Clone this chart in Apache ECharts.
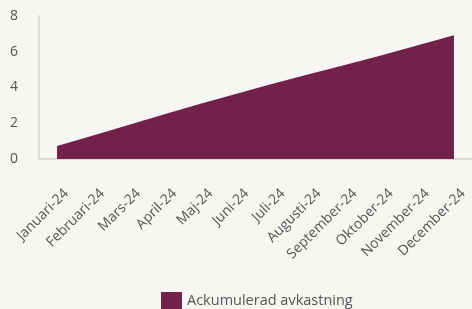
<!DOCTYPE html>
<html><head><meta charset="utf-8">
<script src="https://cdn.jsdelivr.net/npm/echarts@6/dist/echarts.min.js"></script>
<style>html,body{margin:0;padding:0;background:#f7f6f3;}#c{width:472px;height:309px;}</style>
</head><body><div id="c"></div>
<script>
const categories = ["Januari-24","Februari-24","Mars-24","April-24","Maj-24","Juni-24","Juli-24","Augusti-24","September-24","Oktober-24","November-24","December-24"];
const values = [0.73,1.32,1.92,2.52,3.1,3.67,4.22,4.75,5.27,5.8,6.36,6.93];
const seriesName = "Ackumulerad avkastning";
const yTicks = [0,2,4,6,8];
const chart = echarts.init(document.getElementById('c'));
const font = "Open Sans";
chart.setOption({
  backgroundColor: '#f7f6f3',
  animation: false,
  textStyle: {fontFamily: font},
  grid: {left: 39, right: -4, top: 16, bottom: 150},
  legend: {
    top: 292, left: 161, icon: 'rect', itemWidth: 21, itemHeight: 18, padding: 0, itemGap: 0,
    textStyle: {fontFamily: font, fontSize: 14.5, color: '#555'},
    data: [seriesName]
  },
  xAxis: {
    type: 'category', data: categories, boundaryGap: true,
    axisLine: {lineStyle: {color: '#dcdbd8', width: 2}},
    axisTick: {show: false},
    axisLabel: {rotate: 45, interval: 0, color: '#555', fontSize: 14, fontFamily: font, margin: 23,
      verticalAlign: 'top', padding: [6,0,0,0]}
  },
  yAxis: {
    type: 'value', min: yTicks[0], max: yTicks[yTicks.length-1], interval: 2,
    axisLine: {show: true, lineStyle: {color: '#dcdbd8', width: 2}},
    axisTick: {show: false},
    splitLine: {show: false},
    axisLabel: {color: '#555', fontSize: 14, fontFamily: font, margin: 29, align: 'left', padding: [3,0,0,0]}
  },
  series: [{
    name: seriesName, type: 'line', data: values,
    symbol: 'none', lineStyle: {width: 0},
    itemStyle: {color: '#72214a'},
    areaStyle: {color: '#72214a', opacity: 1}
  }]
});
</script></body></html>
